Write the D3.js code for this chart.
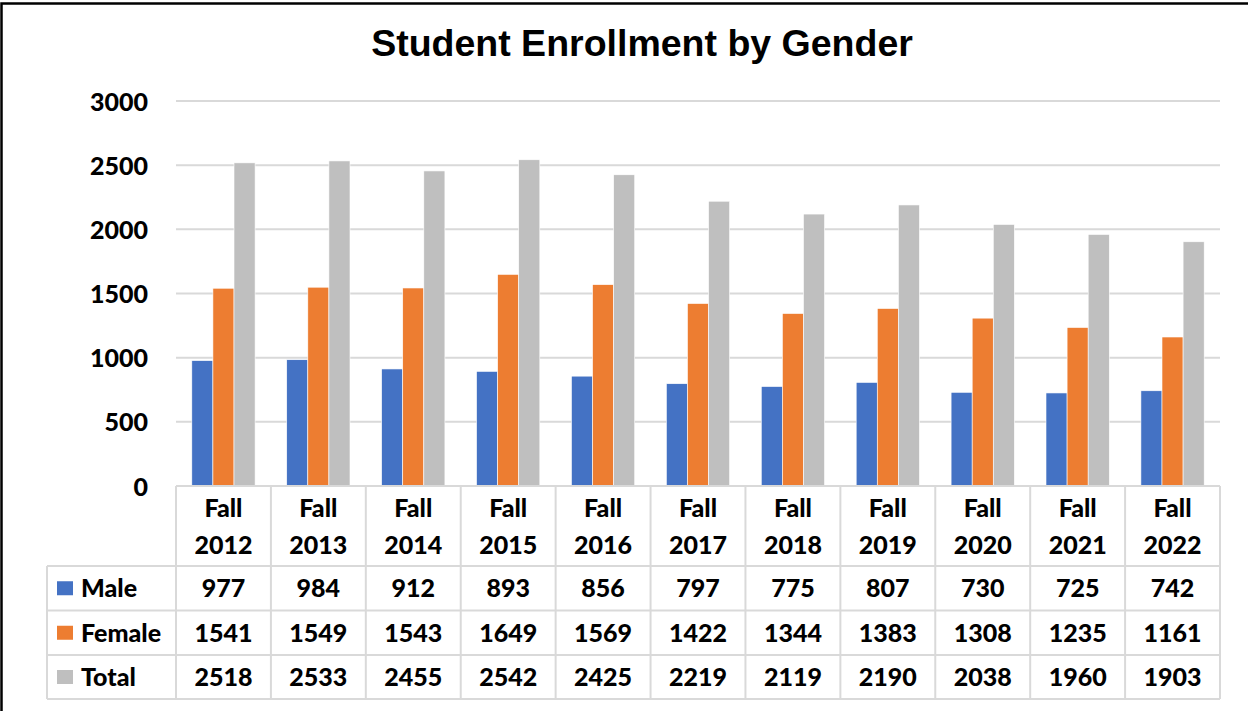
<!DOCTYPE html>
<html>
<head>
<meta charset="utf-8">
<script src="https://cdn.jsdelivr.net/npm/d3@7"></script>
<style>
  body { margin: 0; background: #fff; overflow: hidden; }
  svg { display: block; }
  svg text { font-family: Lato, "Open Sans", sans-serif; font-weight: 900; fill: #000; }
</style>
</head>
<body>
<script>
// chart data
var categories = ["Fall 2012", "Fall 2013", "Fall 2014", "Fall 2015", "Fall 2016", "Fall 2017",
                  "Fall 2018", "Fall 2019", "Fall 2020", "Fall 2021", "Fall 2022"];
var seriesNames = ["Male", "Female", "Total"];
var male   = [977, 984, 912, 893, 856, 797, 775, 807, 730, 725, 742];
var female = [1541, 1549, 1543, 1649, 1569, 1422, 1344, 1383, 1308, 1235, 1161];
var total  = [2518, 2533, 2455, 2542, 2425, 2219, 2119, 2190, 2038, 1960, 1903];
var yTicks = [0, 500, 1000, 1500, 2000, 2500, 3000];
var colors = ["#4472C4", "#ED7D31", "#BFBFBF"];

var series = [male, female, total];

var W = 1248, H = 711;
var plot = {left: 176, right: 1220, top: 101, bottom: 486};
var tableLeft = 47;
// row boundaries of the data table under the axis
var rowLines = [486, 566, 610.5, 655, 699];
var gridColor = "#d9d9d9";

var svg = d3.select("body").append("svg")
    .attr("width", W)
    .attr("height", H);

svg.append("rect")
    .attr("width", W).attr("height", H)
    .attr("fill", "#fff");

// outer chart border (only left and top are visible)
svg.append("rect")
    .attr("x", 1.5).attr("y", 3.5)
    .attr("width", 1400).attr("height", 900)
    .attr("fill", "none")
    .attr("stroke", "#000")
    .attr("stroke-width", 2.5);

// title
svg.append("text")
    .attr("x", 642)
    .attr("y", 56)
    .attr("text-anchor", "middle")
    .style("font-family", "'Liberation Sans', Arial, sans-serif")
    .style("font-weight", "bold")
    .style("font-size", "37.5px")
    .text("Student Enrollment by Gender");

var x0 = d3.scaleBand()
    .domain(categories)
    .range([plot.left, plot.right])
    .padding(0);

var x1 = d3.scaleBand()
    .domain(seriesNames)
    .range([0, x0.bandwidth()])
    .paddingInner(0)
    .paddingOuter(0.75);

var y = d3.scaleLinear()
    .domain([0, 3000])
    .range([plot.bottom, plot.top]);

// gridlines
svg.append("g")
    .selectAll("line")
    .data(yTicks.slice(1))
    .enter().append("line")
    .attr("x1", plot.left)
    .attr("x2", plot.right)
    .attr("y1", function(d) { return y(d); })
    .attr("y2", function(d) { return y(d); })
    .attr("stroke", gridColor)
    .attr("stroke-width", 2);

// y axis labels
var yAxis = d3.axisLeft(y)
    .tickValues(yTicks)
    .tickSize(0)
    .tickPadding(0)
    .tickFormat(d3.format("d"));

var yg = svg.append("g")
    .attr("transform", "translate(148,0)")
    .call(yAxis);
yg.select(".domain").remove();
yg.selectAll("text")
    .style("font-size", "25px")
    .style("font-family", "Lato, sans-serif")
    .attr("dy", "0.36em");

// bars
var groups = svg.append("g")
    .selectAll("g")
    .data(categories)
    .enter().append("g")
    .attr("transform", function(d) { return "translate(" + x0(d) + ",0)"; });

groups.selectAll("rect")
    .data(function(d, i) {
        return seriesNames.map(function(s, j) { return {name: s, value: series[j][i], idx: j}; });
    })
    .enter().append("rect")
    .attr("x", function(d) { return x1(d.name); })
    .attr("width", x1.bandwidth())
    .attr("y", function(d) { return y(d.value); })
    .attr("height", function(d) { return y(0) - y(d.value); })
    .attr("fill", function(d) { return colors[d.idx]; })
    .attr("stroke", "#fff")
    .attr("stroke-width", 0.6);

// data table
var table = svg.append("g");

// horizontal lines
table.selectAll(".hline")
    .data(rowLines)
    .enter().append("line")
    .attr("class", "hline")
    .attr("x1", function(d, i) { return i == 0 ? plot.left : tableLeft; })
    .attr("x2", plot.right)
    .attr("y1", function(d) { return d; })
    .attr("y2", function(d) { return d; })
    .attr("stroke", gridColor)
    .attr("stroke-width", 2);

// vertical lines
var colEdges = categories.map(function(c) { return x0(c); }).concat([plot.right]);
table.selectAll(".vline")
    .data(colEdges)
    .enter().append("line")
    .attr("class", "vline")
    .attr("x1", function(d) { return d; })
    .attr("x2", function(d) { return d; })
    .attr("y1", rowLines[0])
    .attr("y2", rowLines[4])
    .attr("stroke", gridColor)
    .attr("stroke-width", 2);

table.append("line")
    .attr("x1", tableLeft).attr("x2", tableLeft)
    .attr("y1", rowLines[1]).attr("y2", rowLines[4])
    .attr("stroke", gridColor)
    .attr("stroke-width", 2);

// category labels in two lines
var catText = table.selectAll(".cat")
    .data(categories)
    .enter().append("text")
    .attr("class", "cat")
    .attr("text-anchor", "middle")
    .style("font-size", "25px");

catText.append("tspan")
    .attr("x", function(d) { return x0(d) + x0.bandwidth() / 2; })
    .attr("y", 517)
    .text(function(d) { return d.split(" ")[0]; });
catText.append("tspan")
    .attr("x", function(d) { return x0(d) + x0.bandwidth() / 2; })
    .attr("y", 554)
    .text(function(d) { return d.split(" ")[1]; });

// value rows with legend keys
seriesNames.forEach(function(name, j) {
    var cy = (rowLines[j + 1] + rowLines[j + 2]) / 2;

    table.append("rect")
        .attr("x", 57)
        .attr("y", cy - 7)
        .attr("width", 16)
        .attr("height", 14)
        .attr("fill", colors[j]);

    table.append("text")
        .attr("x", 81)
        .attr("y", cy + 9)
        .style("font-size", "25px")
        .text(name);

    table.selectAll(".v" + j)
        .data(series[j])
        .enter().append("text")
        .attr("class", "v" + j)
        .attr("x", function(d, i) { return x0(categories[i]) + x0.bandwidth() / 2; })
        .attr("y", cy + 9)
        .attr("text-anchor", "middle")
        .style("font-size", "25px")
        .text(function(d) { return d; });
});
</script>
</body>
</html>
